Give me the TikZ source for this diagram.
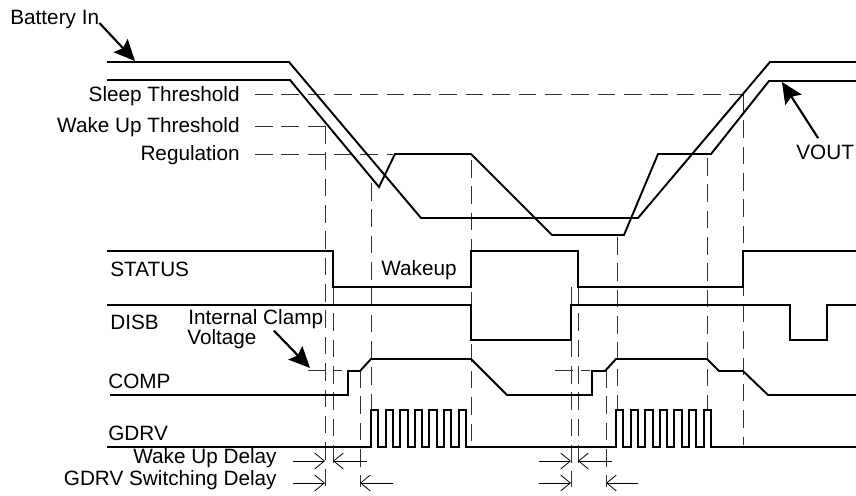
\documentclass[tikz,border=0pt]{standalone}
\usepackage{fontspec}
\setmainfont{Liberation Sans}
\usetikzlibrary{arrows.meta}

\begin{document}
\begin{tikzpicture}[x=0.02cm, y=-0.02cm,
        every node/.style={inner sep=0pt, font=\fontsize{11.8}{11.4}\selectfont},
        sig/.style={line width=1.1pt, line join=miter},
        guide/.style={line width=0.45pt, black!80, dash pattern=on 10pt off 5pt},
        delay/.style={line width=0.45pt, -{Straight Barb[length=5.5pt,width=9pt]}},
        callout/.style={line width=1.2pt, -{Stealth[length=12pt,width=11pt,inset=2pt]}}]
    \useasboundingbox (0,0) rectangle (856,496);

    % level and signal labels
    \node[anchor=base west] (batt)   at (10,25)   {Battery In};
    \node[anchor=base east] (sleep)  at (240,102) {Sleep Threshold};
    \node[anchor=base east] (wake)   at (240,133) {Wake Up Threshold};
    \node[anchor=base east] (reg)    at (240,161) {Regulation};
    \node[anchor=base west] (vout)   at (796,160) {VOUT};
    \node[anchor=base west] (status) at (110,277) {STATUS};
    \node[anchor=base west] (wakeup) at (381,276) {Wakeup};
    \node[anchor=base west] (disb)   at (110,330) {DISB};
    \node[anchor=base west] (clamp1) at (188,325) {Internal Clamp};
    \node[anchor=base west] (clamp2) at (187,345) {Voltage};
    \node[anchor=base west] (comp)   at (108,389) {COMP};
    \node[anchor=base west] (gdrv)   at (108,441) {GDRV};
    \node[anchor=base east] (wud)    at (277,464) {Wake Up Delay};
    \node[anchor=base east] (gsd)    at (277,486) {GDRV Switching Delay};

    \coordinate (batttip)  at (135,61);
    \coordinate (vouttip)  at (782,82);
    \coordinate (clamptip) at (310,368);

    % threshold guides
    \draw[guide] (255,94) -- (743,94);
    \draw[guide] (255,126) -- (325,126);
    \draw[guide] (255,154) -- (393,154);
    \draw[guide] (308,370) -- (342,370);
    \draw[guide] (555,370) -- (590,370);
    \foreach \x/\a/\b in {325/126/487, 333/287/467, 360/370/487, 371/183/410,
                          471/160/445, 571/287/487, 578/287/467, 606/370/487,
                          617/237/410, 707/158/410, 743/94/445}
        \draw[guide] (\x,\a) -- (\x,\b);

    % waveforms
    \draw[sig] (107,62) -- (289,62) -- (421,218) -- (638,218) -- (770,62) -- (856,62);
    \draw[sig] (107,80) -- (290,80) -- (379,187) -- (395,154) -- (471,154) -- (552,235)
        -- (624,235) -- (658,154) -- (711,154) -- (769,81) -- (856,81);
    \draw[sig] (107,251) -- (333,251) -- (333,287) -- (471,287) -- (471,251) -- (578,251)
        -- (578,287) -- (743,287) -- (743,251) -- (856,251);
    \draw[sig] (107,305) -- (471,305) -- (471,340) -- (571,340) -- (571,305) -- (790,305)
        -- (790,340) -- (827,340) -- (827,305) -- (856,305);
    \draw[sig] (110,395) -- (348,395) -- (348,371) -- (360,371) -- (371,359) -- (471,359)
        -- (507,395) -- (592,395) -- (592,371) -- (605,371) -- (616,359) -- (707,359)
        -- (719,371) -- (743,371) -- (768,395) -- (856,395);
    \draw[sig] (107,447) -- (371,447)
        \foreach \k in {1,...,7} { -- ++(0,-37) -- ++(7.4,0) -- ++(0,37) -- ++(7.2,0) }
        -- (616,447)
        \foreach \k in {1,...,7} { -- ++(0,-37) -- ++(7.4,0) -- ++(0,37) -- ++(7.2,0) }
        -- (856,447);

    % callouts
    \draw[callout] ([shift={(0,-2)}]batt.base east) -- (batttip);
    \draw[callout] ([shift={(-7,-7)}]vout.north) -- (vouttip);
    \draw[callout] ([shift={(17,1)}]clamp2.north east) -- (clamptip);

    % delay markers
    \draw[delay] (293,461) -- (325,461);
    \draw[delay] (367,461) -- (333,461);
    \draw[delay] (293,483) -- (325,483);
    \draw[delay] (393,483) -- (360,483);
    \draw[delay] (539,461) -- (571,461);
    \draw[delay] (612,461) -- (578,461);
    \draw[delay] (539,483) -- (571,483);
    \draw[delay] (638,483) -- (606,483);
\end{tikzpicture}
\end{document}
